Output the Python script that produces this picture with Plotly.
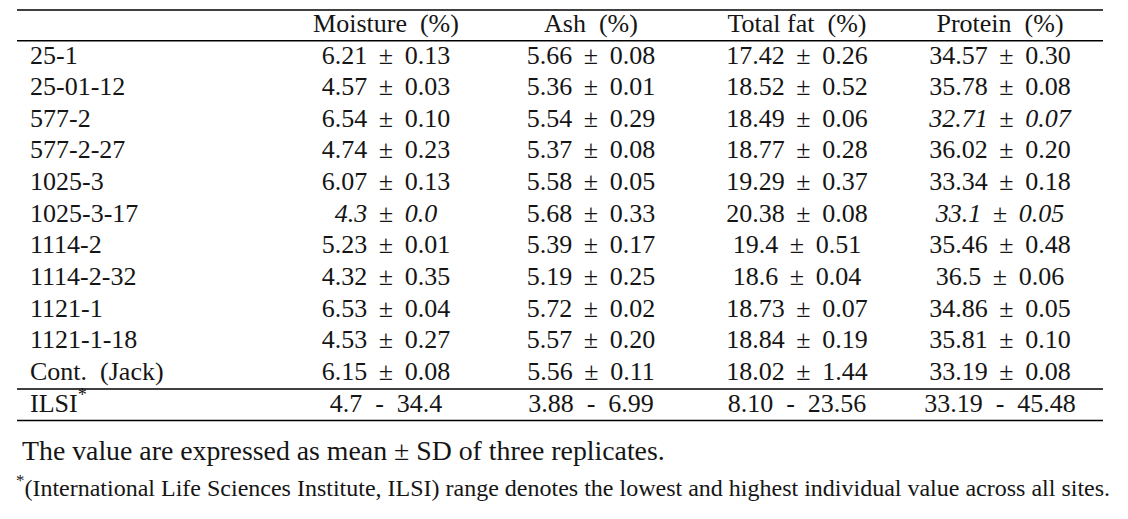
import plotly.graph_objects as go

# ---- data ----
headers = ["Moisture (%)", "Ash (%)", "Total fat (%)", "Protein (%)"]
samples = ["25-1", "25-01-12", "577-2", "577-2-27", "1025-3", "1025-3-17",
           "1114-2", "1114-2-32", "1121-1", "1121-1-18", "Cont. (Jack)"]
moisture = ["6.21 ± 0.13", "4.57 ± 0.03", "6.54 ± 0.10", "4.74 ± 0.23", "6.07 ± 0.13",
            "4.3 ± 0.0", "5.23 ± 0.01", "4.32 ± 0.35", "6.53 ± 0.04", "4.53 ± 0.27", "6.15 ± 0.08"]
ash = ["5.66 ± 0.08", "5.36 ± 0.01", "5.54 ± 0.29", "5.37 ± 0.08", "5.58 ± 0.05",
       "5.68 ± 0.33", "5.39 ± 0.17", "5.19 ± 0.25", "5.72 ± 0.02", "5.57 ± 0.20", "5.56 ± 0.11"]
total_fat = ["17.42 ± 0.26", "18.52 ± 0.52", "18.49 ± 0.06", "18.77 ± 0.28", "19.29 ± 0.37",
             "20.38 ± 0.08", "19.4 ± 0.51", "18.6 ± 0.04", "18.73 ± 0.07", "18.84 ± 0.19", "18.02 ± 1.44"]
protein = ["34.57 ± 0.30", "35.78 ± 0.08", "32.71 ± 0.07", "36.02 ± 0.20", "33.34 ± 0.18",
           "33.1 ± 0.05", "35.46 ± 0.48", "36.5 ± 0.06", "34.86 ± 0.05", "35.81 ± 0.10", "33.19 ± 0.08"]
italic_cells = {("Moisture (%)", "1025-3-17"), ("Protein (%)", "577-2"), ("Protein (%)", "1025-3-17")}
ilsi_label = "ILSI"
ilsi_ranges = ["4.7 - 34.4", "3.88 - 6.99", "8.10 - 23.56", "33.19 - 45.48"]
footnote1 = "The value are expressed as mean ± SD of three replicates."
footnote2 = "(International Life Sciences Institute, ILSI) range denotes the lowest and highest individual value across all sites."

# ---- layout constants (pixels) ----
W, H = 1128, 519
FONT = "Liberation Serif"
FS = 26
col_x = [386, 591, 797, 1000]
header_y = 25
row_y0, row_dy = 57, 31.65
ilsi_y = 405.5
label_x = 30
line_x0, line_x1 = 17, 1103
NB = "\u00a0"
TH = "\u2009"

def fmt(s):
    return s.replace(" ± ", NB + TH + "±" + TH + NB)

fig = go.Figure()

# header
fig.add_trace(go.Scatter(x=col_x, y=[header_y] * 4, mode="text",
                         text=[h.replace(" (", NB + NB + "(") for h in headers],
                         textposition="middle center",
                         textfont=dict(family=FONT, size=FS, color="#151515"), hoverinfo="skip"))
# row labels
row_ys = [row_y0 + i * row_dy for i in range(len(samples))]
fig.add_trace(go.Scatter(x=[label_x] * (len(samples) + 1), y=row_ys + [ilsi_y], mode="text",
                         text=[s.replace(" (", NB + NB + "(") for s in samples] + [ilsi_label + "<sup>*</sup>"],
                         textposition="middle right",
                         textfont=dict(family=FONT, size=FS, color="#151515"), hoverinfo="skip"))
# values
for cx, h, vals in zip(col_x, headers, [moisture, ash, total_fat, protein]):
    txt = []
    for s, v in zip(samples, vals):
        t = fmt(v)
        if (h, s) in italic_cells:
            t = "<i>" + t + "</i>"
        txt.append(t)
    fig.add_trace(go.Scatter(x=[cx] * len(vals), y=row_ys, mode="text", text=txt,
                             textposition="middle center",
                             textfont=dict(family=FONT, size=FS, color="#151515"), hoverinfo="skip"))
# ILSI ranges
fig.add_trace(go.Scatter(x=col_x, y=[ilsi_y] * 4, mode="text",
                         text=[r.replace(" - ", NB + NB + "-" + NB + NB) for r in ilsi_ranges],
                         textposition="middle center",
                         textfont=dict(family=FONT, size=FS, color="#151515"), hoverinfo="skip"))
# footnotes
fig.add_trace(go.Scatter(x=[22, 16], y=[453, 490], mode="text",
                         text=[footnote1.replace(" ", NB), "<sup>*</sup>" + footnote2],
                         textposition="middle right",
                         textfont=dict(family=FONT, size=[27.8, 24], color="#151515"), hoverinfo="skip"))

# horizontal rules
for yy in [10, 40.7, 389, 420.5]:
    fig.add_shape(type="line", x0=line_x0, x1=line_x1, y0=yy, y1=yy,
                  line=dict(color="black", width=1.6), xref="x", yref="y")

fig.update_layout(width=W, height=H, margin=dict(l=0, r=0, t=0, b=0),
                  paper_bgcolor="white", plot_bgcolor="white", showlegend=False,
                  xaxis=dict(range=[0, W], visible=False, fixedrange=True),
                  yaxis=dict(range=[H, 0], visible=False, fixedrange=True))

fig.write_html("out.html", config={"displayModeBar": False},
               post_script="document.body.style.margin='0';document.body.style.overflow='hidden';")
